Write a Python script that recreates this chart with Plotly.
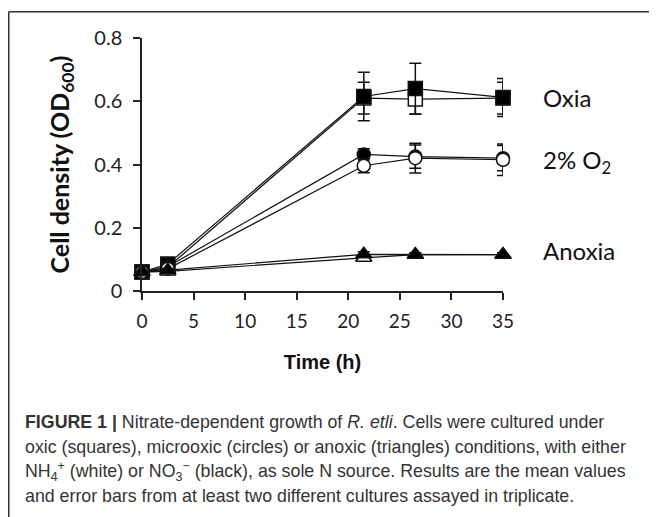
import plotly.graph_objects as go

# ---- data ----
time_h = [0, 2.5, 21.5, 26.5, 35]

oxia_nh4 = [0.06, 0.075, 0.61, 0.607, 0.61]
oxia_nh4_err = [0.005, 0.005, 0.05, 0.048, 0.05]
oxia_no3 = [0.06, 0.085, 0.615, 0.64, 0.612]
oxia_no3_err = [0.005, 0.005, 0.077, 0.08, 0.06]

micro_nh4 = [0.06, 0.07, 0.396, 0.42, 0.415]
micro_nh4_err = [0.005, 0.005, 0.022, 0.047, 0.05]
micro_no3 = [0.06, 0.077, 0.432, 0.425, 0.42]
micro_no3_err = [0.005, 0.005, 0.018, 0.037, 0.04]

anox_nh4 = [0.06, 0.062, 0.105, 0.115, 0.115]
anox_nh4_err = [0.005, 0.005, 0.008, 0.005, 0.005]
anox_no3 = [0.06, 0.066, 0.116, 0.115, 0.115]
anox_no3_err = [0.005, 0.005, 0.008, 0.005, 0.005]

x_ticks = [0, 5, 10, 15, 20, 25, 30, 35]
y_ticks = [0, 0.2, 0.4, 0.6, 0.8]
y_tick_labels = ["0", "0.2", "0.4", "0.6", "0.8"]

condition_labels = ["Oxia", "2% O<sub>2</sub>", "Anoxia"]
condition_label_y = [0.613, 0.41, 0.128]

caption_lines = [
    "<b>FIGURE 1 |</b> Nitrate-dependent growth of <i>R. etli</i>. Cells were cultured under",
    "oxic (squares), microoxic (circles) or anoxic (triangles) conditions, with either",
    "NH<sub>4</sub><sup>+</sup> (white) or NO<sub>3</sub><sup>\u2212</sup> (black), as sole N source. Results are the mean values",
    "and error bars from at least two different cultures assayed in triplicate.",
]

# ---- layout geometry (pixels, page has an 8px body margin) ----
OFF = 8
W, H = 657 - OFF, 517 - OFF
L, R, T, B = 142 - OFF, 503 - OFF, 38 - OFF, 291 - OFF
pw, ph = R - L, B - T


def px(x):
    return (x - OFF - L) / pw


def py(y):
    return (B - (y - OFF)) / ph


fig = go.Figure()

series = [
    (oxia_nh4, oxia_nh4_err, "square", "white", "Oxia NH4+"),
    (oxia_no3, oxia_no3_err, "square", "black", "Oxia NO3-"),
    (micro_no3, micro_no3_err, "circle", "black", "2% O2 NO3-"),
    (micro_nh4, micro_nh4_err, "circle", "white", "2% O2 NH4+"),
    (anox_nh4, anox_nh4_err, "triangle-up", "white", "Anoxia NH4+"),
    (anox_no3, anox_no3_err, "triangle-up", "black", "Anoxia NO3-"),
]

for yv, ev, sym, fill, name in series:
    fig.add_trace(go.Scatter(
        x=time_h, y=yv, name=name, mode="lines+markers",
        line=dict(color="#111111", width=1.2),
        marker=dict(symbol=sym, size=14 if sym != "circle" else 13,
                    color=fill, line=dict(color="#111111", width=1.5)),
        error_y=dict(type="data", array=ev, visible=True,
                     color="#111111", thickness=1.5, width=6),
        cliponaxis=False,
        showlegend=False,
    ))

fig.update_xaxes(
    range=[0, 35], tickvals=x_ticks, showgrid=False, zeroline=False,
    showline=True, linecolor="#222222", linewidth=1.5,
    ticks="outside", ticklen=7, tickwidth=1.5, tickcolor="#222222",
    ticklabelstandoff=5,
    tickfont=dict(family="Lato", size=19, color="#222222"),
    title=dict(text="<b>Time (h)</b>", font=dict(family="Liberation Sans", size=20, color="#111111"),
               standoff=24),
)
fig.update_yaxes(
    range=[0, 0.8], tickvals=y_ticks, ticktext=y_tick_labels,
    showgrid=False, zeroline=False,
    showline=True, linecolor="#222222", linewidth=1.5,
    ticks="outside", ticklen=7, tickwidth=1.5, tickcolor="#222222",
    ticklabelstandoff=7,
    tickfont=dict(family="Lato", size=20, color="#222222"),
    title=dict(text="<b>Cell density (OD<sub>600</sub>)</b>",
               font=dict(family="Lato", size=25, color="#111111"), standoff=18),
)

annotations = []
for lab, yv in zip(condition_labels, condition_label_y):
    annotations.append(dict(
        x=px(541), y=yv, xref="paper", yref="y", text=lab, showarrow=False,
        xanchor="left", yanchor="middle",
        font=dict(family="Lato", size=24, color="#111111"),
    ))

caption_y = [422, 447, 471, 496]
for line, cy in zip(caption_lines, caption_y):
    annotations.append(dict(
        x=px(23), y=py(cy), xref="paper", yref="paper", text=line, showarrow=False,
        xanchor="left", yanchor="middle",
        font=dict(family="Liberation Sans", size=17.8, color="#333333"),
    ))

shapes = [
    dict(type="line", xref="paper", yref="paper", x0=px(8.75), x1=px(W + 20), y0=py(11.75), y1=py(11.75),
         line=dict(color="#333333", width=1.5)),
    dict(type="line", xref="paper", yref="paper", x0=px(8.75), x1=px(8.75), y0=py(11.75), y1=py(H + 20),
         line=dict(color="#333333", width=1.5)),
]

fig.update_layout(
    width=W, height=H,
    margin=dict(l=L, r=W - R, t=T, b=H - B, autoexpand=False),
    paper_bgcolor="white", plot_bgcolor="white",
    annotations=annotations, shapes=shapes,
)

fig.write_html("out.html")
